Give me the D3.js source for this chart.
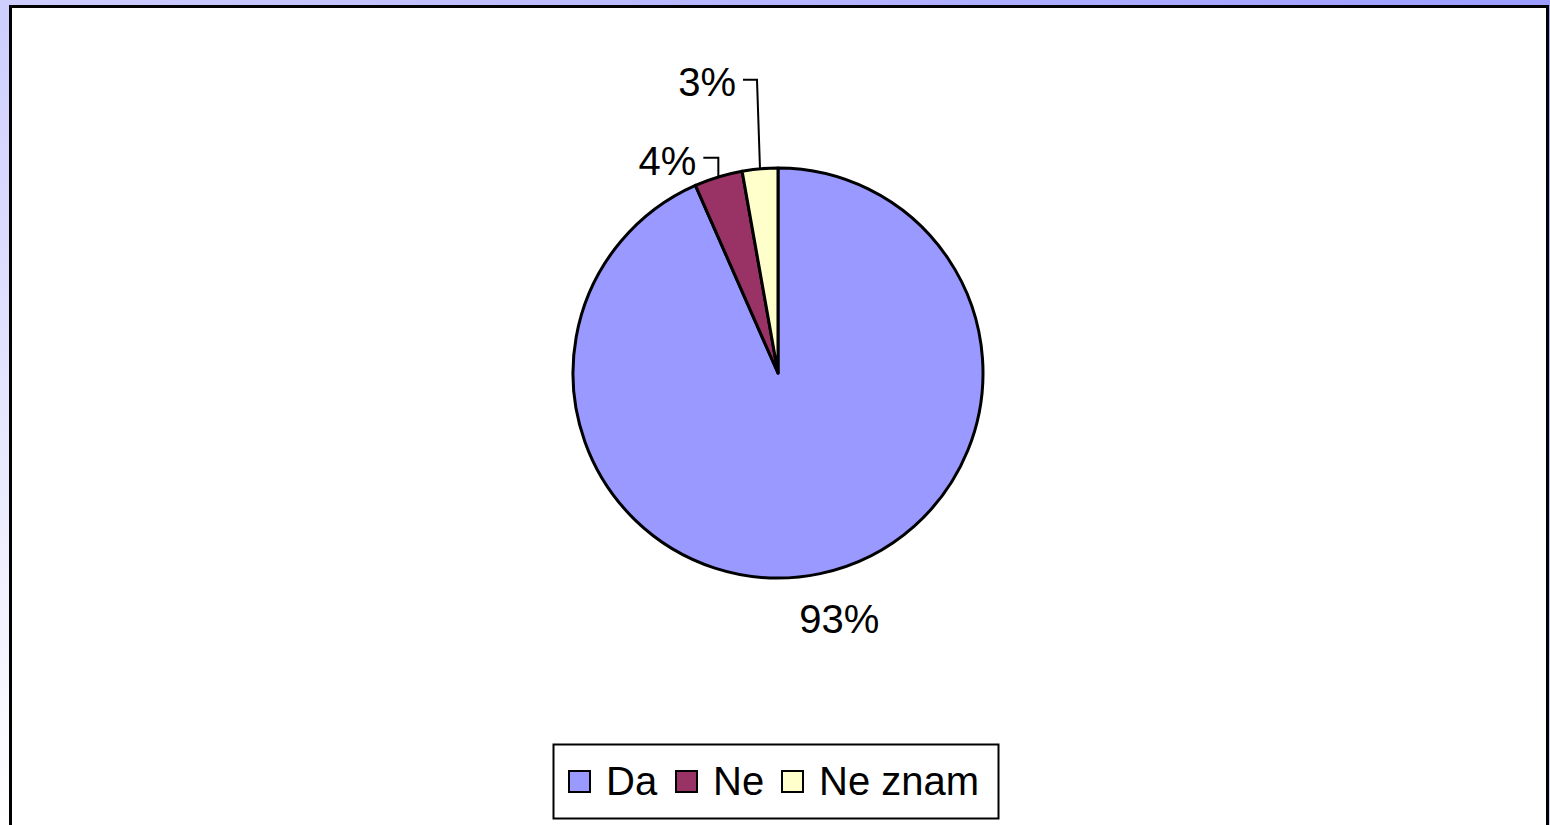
<!DOCTYPE html>
<html>
<head>
<meta charset="utf-8">
<script src="https://cdn.jsdelivr.net/npm/d3@7"></script>
<style>
  html, body { margin: 0; padding: 0; overflow: hidden; }
  text { font-family: "Liberation Sans", Arial, sans-serif; fill: #000; }
</style>
</head>
<body>
<div id="chart"></div>
<script>
// Data
var categories = ["Da", "Ne", "Ne znam"];
var values = [93.4, 3.8, 2.8];
var labels = ["93%", "4%", "3%"];
var colors = ["#9999ff", "#993366", "#ffffcc"];

function init() {

    var w = 1550;
    var h = 825;

    var svg = d3.select("#chart")
                .append("svg")
                .attr("width", w)
                .attr("height", h);

    // background gradient (top right lavender to bottom left white)
    var grad = svg.append("defs")
                  .append("linearGradient")
                  .attr("id", "bg")
                  .attr("x1", 1).attr("y1", 0)
                  .attr("x2", 0).attr("y2", 1);
    grad.append("stop").attr("offset", 0).attr("stop-color", "#9c9cff");
    grad.append("stop").attr("offset", 1).attr("stop-color", "#ffffff");

    svg.append("rect")
       .attr("width", w)
       .attr("height", h)
       .attr("fill", "url(#bg)");

    // chart area
    svg.append("rect")
       .attr("x", 10.5)
       .attr("y", 6.5)
       .attr("width", 1537)
       .attr("height", 900)
       .attr("fill", "#fff")
       .attr("stroke", "#000")
       .attr("stroke-width", 3);

    // pie
    var cx = 778, cy = 373, r = 205;

    var data = categories.map(function(c, i) {
        return { name: c, value: values[i], label: labels[i], color: colors[i] };
    });

    var pie = d3.pie()
                .sort(null)
                .value(function(d) { return d.value; })
                .startAngle(0)
                .endAngle(2 * Math.PI);

    var arcs = pie(data);

    var arc = d3.arc()
                .innerRadius(0)
                .outerRadius(r);

    var g = svg.append("g")
               .attr("transform", "translate(" + cx + "," + cy + ")");

    g.selectAll("path")
     .data(arcs)
     .enter()
     .append("path")
     .attr("d", arc)
     .attr("fill", function(d) { return d.data.color; })
     .attr("stroke", "#000")
     .attr("stroke-width", 3)
     .attr("stroke-linejoin", "round");

    // labels: 93% sits below the pie, small slices get leader lines
    function rimPoint(d) {
        var a = (d.startAngle + d.endAngle) / 2;
        return [Math.sin(a) * r, -Math.cos(a) * r];
    }

    // Da
    var da = arcs[0];
    var pDa = rimPoint(da);
    g.append("text")
     .attr("x", pDa[0] - 21)
     .attr("y", pDa[1] + 59)
     .attr("font-size", 40)
     .text(da.data.label);

    // Ne and Ne znam with leaders
    var leaderOffsets = [null, { dx: 0, dy: -19, tx: -15, ty: 17 }, { dx: -3, dy: -89, tx: -14, ty: 16 }];

    [1, 2].forEach(function(i) {
        var d = arcs[i];
        var p = rimPoint(d);
        var o = leaderOffsets[i];
        var elbow = [p[0] + o.dx, p[1] + o.dy];
        var end = [elbow[0] + o.tx, elbow[1]];
        g.append("polyline")
         .attr("points", [p, elbow, end].map(function(q) { return q.join(","); }).join(" "))
         .attr("fill", "none")
         .attr("stroke", "#000")
         .attr("stroke-width", 2);
        g.append("text")
         .attr("x", end[0] - 7)
         .attr("y", end[1] + o.ty)
         .attr("text-anchor", "end")
         .attr("font-size", 40)
         .text(d.data.label);
    });

    // legend
    var legend = svg.append("g");
    legend.append("rect")
          .attr("x", 553.5)
          .attr("y", 744.5)
          .attr("width", 445)
          .attr("height", 74)
          .attr("fill", "#fff")
          .attr("stroke", "#000")
          .attr("stroke-width", 2);

    var legendX = [569, 676, 782];
    var item = legend.selectAll("g.item")
                     .data(data)
                     .enter()
                     .append("g")
                     .attr("class", "item")
                     .attr("transform", function(d, i) { return "translate(" + legendX[i] + ",771)"; });

    item.append("rect")
        .attr("width", 21)
        .attr("height", 21)
        .attr("fill", function(d) { return d.color; })
        .attr("stroke", "#000")
        .attr("stroke-width", 2);

    item.append("text")
        .attr("x", 37)
        .attr("y", 24)
        .attr("font-size", 40)
        .text(function(d) { return d.name; });
}

window.onload = init;
</script>
</body>
</html>
